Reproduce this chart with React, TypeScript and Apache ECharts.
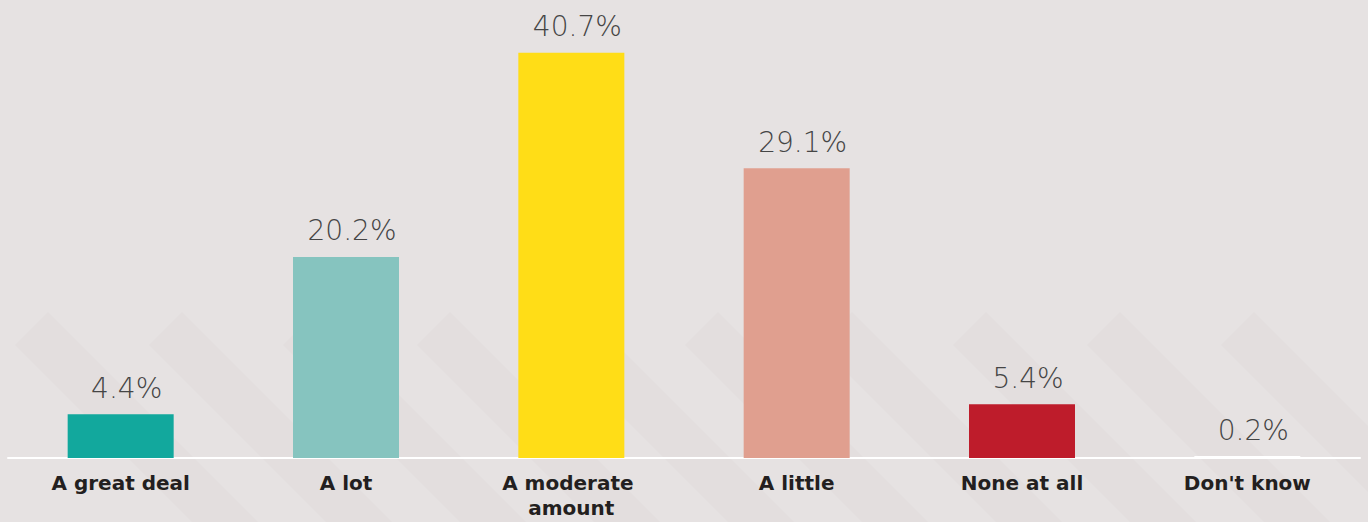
import React, { useEffect, useRef } from "react";
import * as echarts from "echarts";

const categories = ["A great deal", "A lot", "A moderate amount", "A little", "None at all", "Don't know"];
const values = [4.4, 20.2, 40.7, 29.1, 5.4, 0.2];
const barColors = ["#12a89d", "#86c4bf", "#ffdd17", "#e09f8f", "#be1c2b", "#ffffff"];

const stripePeaks = [48, 182, 316, 450, 584, 718, 852, 986, 1120, 1254];

export default function App() {
  const ref = useRef<HTMLDivElement>(null);
  useEffect(() => {
    const chart = echarts.init(ref.current!, undefined, { renderer: "svg" });
    const stripes = stripePeaks.map((p) => ({
      type: "polygon",
      silent: true,
      z: 0,
      shape: {
        points: [
          [p - 33, 345],
          [p, 312],
          [p + 210, 522],
          [p + 144, 522],
        ],
      },
      style: { fill: "rgba(120,100,100,0.025)" },
    }));
    chart.setOption({
      animation: false,
      backgroundColor: "#e6e2e2",
      graphic: stripes,
      grid: { left: 8, right: 8, top: 10, bottom: 64, containLabel: false, outerBoundsMode: "none" },
      xAxis: {
        type: "category",
        data: categories,
        axisLine: { lineStyle: { color: "#ffffff", width: 2 } },
        axisTick: { show: false },
        axisLabel: {
          interval: 0,
          color: "#231f20",
          fontFamily: "'DejaVu Sans', sans-serif",
          fontWeight: "bold",
          fontSize: 20,
          margin: 12,
          width: 175,
          overflow: "break",
          lineHeight: 25,
        },
      },
      yAxis: {
        type: "value",
        min: 0,
        max: 45,
        show: false,
        splitLine: { show: false },
      },
      series: [
        {
          type: "bar",
          data: values.map((v, i) => ({ value: v, itemStyle: { color: barColors[i] } })),
          barWidth: 106,
          z: 2,
          label: {
            show: true,
            position: "top",
            distance: 12,
            offset: [6, 0],
            formatter: (p: any) => `${p.value}%`,
            color: "#454545",
            fontFamily: "'DejaVu Sans', sans-serif",
            fontWeight: 200,
            fontSize: 28,
          },
        },
      ],
    });
    return () => chart.dispose();
  }, []);
  return (
    <div
      ref={ref}
      style={{ position: "fixed", left: 0, top: 0, width: 1368, height: 522 }}
    />
  );
}
